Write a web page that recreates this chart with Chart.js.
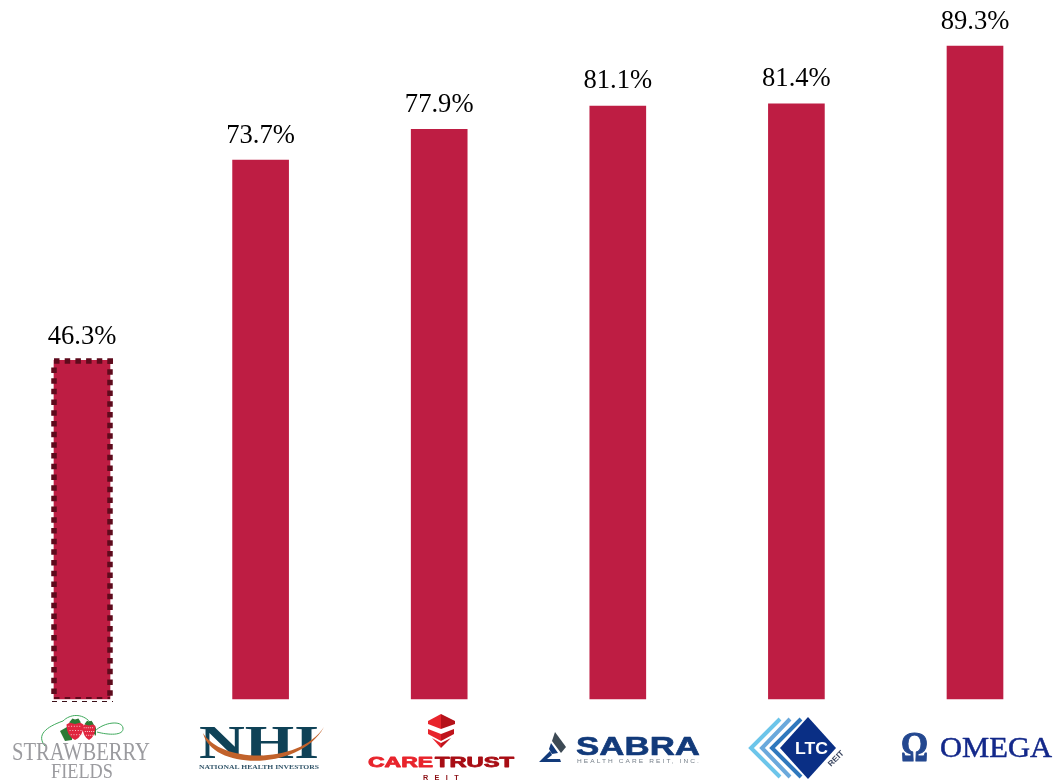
<!DOCTYPE html>
<html>
<head>
<meta charset="utf-8">
<title>Chart</title>
<script src="https://cdn.jsdelivr.net/npm/chart.js@4"></script>
<style>
  html,body{margin:0;padding:0;background:#fff;overflow:hidden}
  canvas{display:block}
</style>
</head>
<body>
<canvas id="chart" width="1059" height="780"></canvas>
<script>
const categories = ["Strawberry Fields","National Health Investors","CareTrust REIT","Sabra Health Care REIT","LTC REIT","Omega"];
const values = [46.3,73.7,77.9,81.1,81.4,89.3];
const highlightIndex = 0;

const BAR_COLOR = "#BE1D43";
const SERIF = '"Liberation Serif","Times New Roman",serif';
const SANS = '"Liberation Sans",Arial,sans-serif';

// text squeezed or stretched to a given width, logos are not regular fonts
// heavy = extra outline for the fat logo lettering
function fitText(ctx,str,x,y,font,color,width,heavy){
  ctx.save();
  ctx.font = font;
  ctx.fillStyle = color;
  ctx.textAlign = "left";
  ctx.textBaseline = "alphabetic";
  const w = ctx.measureText(str).width;
  ctx.translate(x,y);
  ctx.scale(width/w,1);
  ctx.fillText(str,0,0);
  if(heavy){
    ctx.strokeStyle = color;
    ctx.lineWidth = heavy;
    ctx.lineJoin = "round";
    ctx.strokeText(str,0,0);
  }
  ctx.restore();
}

function poly(ctx,pts,color){
  ctx.fillStyle = color;
  ctx.beginPath();
  pts.forEach((p,i)=> i ? ctx.lineTo(p[0],p[1]) : ctx.moveTo(p[0],p[1]));
  ctx.closePath();
  ctx.fill();
}

function berry(ctx,x,y,rx,ry){
  ctx.fillStyle = "#e0263f";
  ctx.beginPath();
  ctx.moveTo(x-rx,y-ry*0.55);
  ctx.quadraticCurveTo(x,y-ry*1.2,x+rx,y-ry*0.55);
  ctx.quadraticCurveTo(x+rx,y+ry*0.6,x,y+ry);
  ctx.quadraticCurveTo(x-rx,y+ry*0.6,x-rx,y-ry*0.55);
  ctx.fill();
  ctx.fillStyle = "#f7c6cc";
  for(let i=-2;i<=2;i++){
    for(let j=-1;j<=1;j++){
      ctx.fillRect(x+i*rx*0.32+(j%2)*1.2,y+j*ry*0.42,1,1);
    }
  }
  poly(ctx,[[x-rx*0.7,y-ry*0.75],[x-rx*0.3,y-ry*1.15],[x,y-ry*1.05],[x+rx*0.4,y-ry*1.15],[x+rx*0.7,y-ry*0.75],[x,y-ry*0.6]],"#2c7a35");
}

function logoStrawberry(ctx){
  ctx.strokeStyle = "#3fa95c";
  ctx.lineWidth = 1;
  ctx.beginPath();
  ctx.moveTo(45,746);
  ctx.bezierCurveTo(36,735,46,727,63,721);
  ctx.bezierCurveTo(70,714,82,713,90,722);
  ctx.stroke();
  ctx.beginPath();
  ctx.moveTo(95,731);
  ctx.bezierCurveTo(104,722,122,720,123,728);
  ctx.bezierCurveTo(124,736,108,735,97,732);
  ctx.stroke();
  poly(ctx,[[60,731],[67,727],[72,733],[72,740],[65,741]],"#2c7a35");
  poly(ctx,[[92,722],[96,728],[96,736],[93,733]],"#2c7a35");
  berry(ctx,89,731,6.5,9);
  berry(ctx,75,730,8.5,10);
  fitText(ctx,"STRAWBERRY",12,760,"26px "+SERIF,"#9b9b9f",138);
  fitText(ctx,"FIELDS",51,778,"22px "+SERIF,"#9b9b9f",62);
}

function logoNhi(ctx){
  fitText(ctx,"NHI",199,758,"bold 46px "+SERIF,"#0f4257",120);
  ctx.fillStyle = "#c1622b";
  ctx.beginPath();
  ctx.moveTo(203,733);
  ctx.bezierCurveTo(212,771,300,771,324,727);
  ctx.bezierCurveTo(300,764,222,764,203,733);
  ctx.fill();
  fitText(ctx,"NATIONAL HEALTH INVESTORS",199,769,"bold 7px "+SERIF,"#33566a",120);
}

function logoCaretrust(ctx){
  poly(ctx,[[428,721],[441,714],[441,729],[428,724]],"#e8242c");
  poly(ctx,[[455,721],[441,714],[441,729],[455,724]],"#b5121a");
  poly(ctx,[[428,729],[441,734],[441,741],[428,734]],"#e8242c");
  poly(ctx,[[454,729],[441,734],[441,741],[454,734]],"#c0141c");
  poly(ctx,[[432,738],[441,743],[441,748]],"#e8242c");
  poly(ctx,[[451,738],[441,743],[441,748]],"#c0141c");
  fitText(ctx,"CARE",368,767,"900 14px "+SANS,"#e8242c",65,0.8);
  fitText(ctx,"TRUST",435,767,"900 14px "+SANS,"#a80d14",79,0.8);
  ctx.save();
  ctx.letterSpacing = "7px";
  fitText(ctx,"REIT",423,780,"bold 8px "+SANS,"#8c1015",42);
  ctx.restore();
}

function logoSabra(ctx){
  poly(ctx,[[555,732],[566,747],[561,753],[552,741]],"#3d4a55");
  poly(ctx,[[551,743],[558,753],[552,754],[549,749]],"#123a7a");
  poly(ctx,[[539,762],[550,751],[552,755],[547,759],[560,759],[561,762]],"#123a7a");
  fitText(ctx,"SABRA",576,755,"bold 25px "+SANS,"#123a7a",124,0.6);
  ctx.save();
  ctx.letterSpacing = "1.6px";
  fitText(ctx,"HEALTH CARE REIT, INC.",577,763,"5px "+SANS,"#77808a",124);
  ctx.restore();
}

function logoLtc(ctx){
  const chevrons = [[751,780,"#6cc5ea"],[762,790,"#6aa9dc"],[772,801,"#2f78bd"]];
  ctx.lineWidth = 4;
  chevrons.forEach(c=>{
    ctx.strokeStyle = c[2];
    ctx.beginPath();
    ctx.moveTo(c[1],719);
    ctx.lineTo(c[0],748);
    ctx.lineTo(c[1],777);
    ctx.stroke();
  });
  poly(ctx,[[808,717],[836,748],[808,779],[780,748]],"#0a2f85");
  fitText(ctx,"LTC",795,754,"bold 17px "+SANS,"#ffffff",33);
  ctx.save();
  ctx.translate(831,767);
  ctx.rotate(-Math.PI/4);
  fitText(ctx,"REIT",0,0,"bold 8px "+SANS,"#3a4660",19);
  ctx.restore();
}

function logoOmega(ctx){
  const grad = ctx.createLinearGradient(901,0,928,0);
  grad.addColorStop(0,"#23478f");
  grad.addColorStop(0.45,"#7f8fb0");
  grad.addColorStop(1,"#b9b9bb");
  fitText(ctx,"\u03A9",901,761,"bold 42px "+SERIF,grad,27,1);
  fitText(ctx,"OMEGA",940,757,"30px "+SERIF,"#13288a",112,0.5);
}

const logos = [logoStrawberry,logoNhi,logoCaretrust,logoSabra,logoLtc,logoOmega];

const decoratePlugin = {
  id:"decorate",
  afterDatasetsDraw(chart){
    const ctx = chart.ctx;
    const bars = chart.getDatasetMeta(0).data;

    // dashed outline on the highlighted bar
    const b = bars[highlightIndex];
    const l = b.x-28, r = b.x+28, t = b.y;
    ctx.save();
    ctx.strokeStyle = "#5e0a1c";
    ctx.lineWidth = 5.5;
    ctx.setLineDash([5.5,5.2]);
    ctx.beginPath();
    ctx.moveTo(l,t+0.5); ctx.lineTo(r+3,t+0.5);
    ctx.moveTo(l,t+7); ctx.lineTo(l,b.base-2);
    ctx.moveTo(r,t-2); ctx.lineTo(r,b.base-2);
    ctx.stroke();
    ctx.lineWidth = 2;
    ctx.beginPath();
    ctx.moveTo(l,b.base-1); ctx.lineTo(r,b.base-1);
    ctx.stroke();
    ctx.lineWidth = 1.2;
    ctx.setLineDash([5,5]);
    ctx.strokeStyle = "#3c1018";
    ctx.beginPath();
    ctx.moveTo(l-2,b.base+2.5); ctx.lineTo(r+3,b.base+2.5);
    ctx.stroke();
    ctx.restore();

    // value labels, the highlighted one sits a bit closer to its bar
    ctx.save();
    ctx.font = "26.6px "+SERIF;
    ctx.fillStyle = "#000";
    ctx.textAlign = "center";
    ctx.textBaseline = "alphabetic";
    bars.forEach((bar,i)=>{
      const gap = i === highlightIndex ? 16 : 17.5;
      ctx.fillText(values[i].toFixed(1)+"%",bar.x,bar.y-gap);
    });
    ctx.restore();

    logos.forEach(fn=>{ ctx.save(); fn(ctx); ctx.restore(); });
  }
};

new Chart(document.getElementById("chart"),{
  type:"bar",
  data:{
    labels:categories,
    datasets:[{
      data:values,
      backgroundColor:BAR_COLOR,
      barThickness:56,
      clip:false
    }]
  },
  options:{
    responsive:false,
    animation:false,
    layout:{ padding:{ left:82, right:84, top:46, bottom:81 } },
    plugins:{ legend:{ display:false }, tooltip:{ enabled:false } },
    scales:{
      x:{ display:false, offset:false, grid:{ display:false } },
      y:{ display:false, min:0, max:89.3, grid:{ display:false } }
    }
  },
  plugins:[decoratePlugin]
});
</script>
</body>
</html>
